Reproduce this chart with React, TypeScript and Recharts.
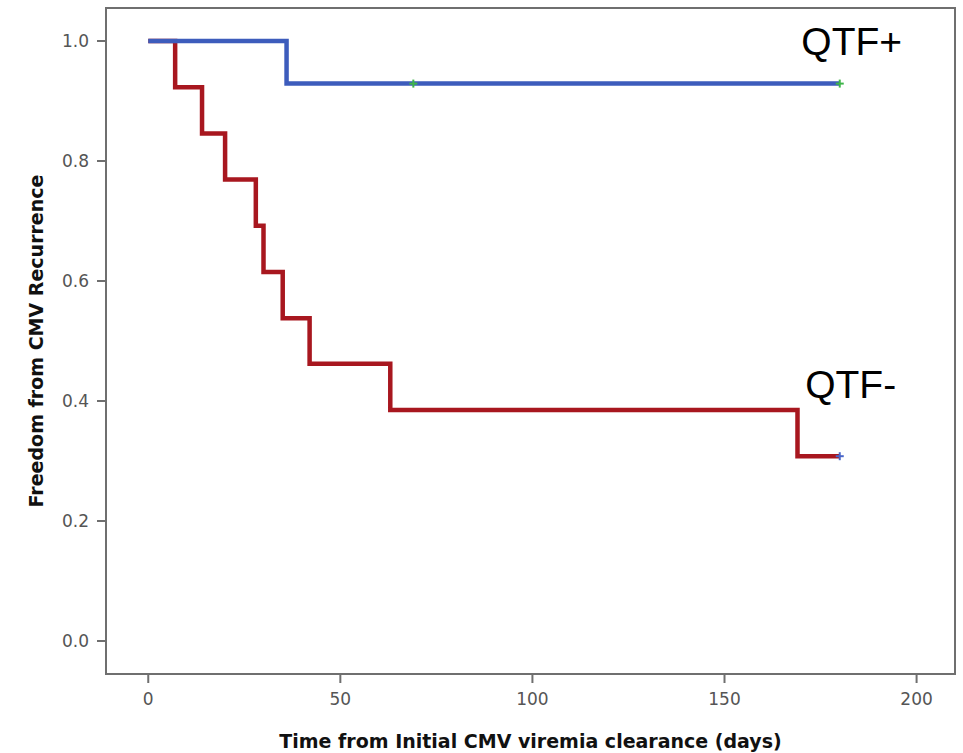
import {
  ComposedChart,
  Line,
  Scatter,
  XAxis,
  YAxis,
  ReferenceDot,
  ReferenceArea,
} from "recharts";

// Kaplan-Meier steps (days, survival)
const qtfNegDays = [0, 7, 14, 20, 28, 30, 35, 42, 63, 169, 180];
const qtfNegSurv = [1, 0.923, 0.846, 0.769, 0.692, 0.615, 0.538, 0.462, 0.385, 0.308, 0.308];
const qtfPosDays = [0, 36, 180];
const qtfPosSurv = [1, 0.929, 0.929];

// censored observations
const qtfPosCensorDays = [69, 180];
const qtfPosCensorSurv = [0.929, 0.929];
const qtfNegCensorDays = [180];
const qtfNegCensorSurv = [0.308];

const xTicks = [0, 50, 100, 150, 200];
const yTicks = [0, 0.2, 0.4, 0.6, 0.8, 1.0];

const xDomain: [number, number] = [-11, 210];
const yDomain: [number, number] = [-0.055, 1.055];

const toRows = (days: number[], surv: number[]) =>
  days.map((t, i) => ({ t, s: surv[i] }));

const negRows = toRows(qtfNegDays, qtfNegSurv);
const posRows = toRows(qtfPosDays, qtfPosSurv);
const posCensor = toRows(qtfPosCensorDays, qtfPosCensorSurv);
const negCensor = toRows(qtfNegCensorDays, qtfNegCensorSurv);

const FRAME = "#6f6f6f";
const tickStyle = { fontSize: 17, fill: "#555", fontFamily: "DejaVu Sans" };

function plus(color: string) {
  return (p: any) => {
    const { cx, cy } = p;
    return (
      <g stroke={color} strokeWidth={2}>
        <line x1={cx - 4} x2={cx + 4} y1={cy} y2={cy} />
        <line x1={cx} x2={cx} y1={cy - 4} y2={cy + 4} />
      </g>
    );
  };
}

function YTitle(props: any) {
  const vb = props.viewBox || {};
  const cx = 36;
  const cy = vb.y + vb.height / 2;
  return (
    <text
      x={cx}
      y={cy}
      transform={`rotate(-90, ${cx}, ${cy})`}
      textAnchor="middle"
      dominantBaseline="central"
      fontFamily="DejaVu Sans"
      fontWeight="bold"
      fontSize={19}
      fill="#111"
    >
      Freedom from CMV Recurrence
    </text>
  );
}

function groupLabel(text: string) {
  return (p: any) => {
    const vb = p.viewBox || {};
    return (
      <text
        x={vb.x}
        y={vb.y}
        fontFamily="Liberation Sans"
        fontSize={39}
        fill="#000"
      >
        {text}
      </text>
    );
  };
}

export default function App() {
  return (
    <div style={{ position: "absolute", left: 0, top: 0, background: "#fff" }}>
      <ComposedChart
        width={963}
        height={753}
        margin={{ top: 8, right: 8, bottom: 0, left: 0 }}
      >
        <XAxis
          dataKey="t"
          type="number"
          domain={xDomain}
          allowDataOverflow
          ticks={xTicks}
          tick={tickStyle}
          tickSize={9}
          tickMargin={10}
          height={79}
          stroke={FRAME}
          axisLine={{ stroke: FRAME, strokeWidth: 2 }}
          tickLine={{ stroke: FRAME, strokeWidth: 2 }}
          label={{
            value: "Time from Initial CMV viremia clearance (days)",
            position: "insideBottom",
            offset: 5,
            style: {
              fontFamily: "DejaVu Sans",
              fontWeight: "bold",
              fontSize: 19,
              fill: "#111",
            },
          }}
        />
        <YAxis
          type="number"
          domain={yDomain}
          allowDataOverflow
          ticks={yTicks}
          tickFormatter={(v: number) => v.toFixed(1)}
          tick={tickStyle}
          tickSize={9}
          tickMargin={8}
          width={106}
          axisLine={{ stroke: FRAME, strokeWidth: 2 }}
          tickLine={{ stroke: FRAME, strokeWidth: 2 }}
          label={<YTitle />}
        />
        {/* plot frame */}
        <ReferenceArea
          x1={xDomain[0]}
          x2={xDomain[1]}
          y1={yDomain[0]}
          y2={yDomain[1]}
          fill="none"
          fillOpacity={0}
          stroke={FRAME}
          strokeWidth={2}
          strokeOpacity={1}
          ifOverflow="visible"
        />
        <Line
          data={negRows}
          dataKey="s"
          type="stepAfter"
          stroke="#a8171f"
          strokeWidth={4.5}
          dot={false}
          isAnimationActive={false}
        />
        <Line
          data={posRows}
          dataKey="s"
          type="stepAfter"
          stroke="#3d5cbc"
          strokeWidth={4.5}
          dot={false}
          isAnimationActive={false}
        />
        <Scatter
          data={posCensor}
          dataKey="s"
          shape={plus("#3fb54a")}
          isAnimationActive={false}
        />
        <Scatter
          data={negCensor}
          dataKey="s"
          shape={plus("#4a66c8")}
          isAnimationActive={false}
        />
        <ReferenceDot
          x={170}
          y={0.977}
          r={0}
          stroke="none"
          label={groupLabel("QTF+")}
        />
        <ReferenceDot
          x={171}
          y={0.405}
          r={0}
          stroke="none"
          label={groupLabel("QTF-")}
        />
      </ComposedChart>
    </div>
  );
}
